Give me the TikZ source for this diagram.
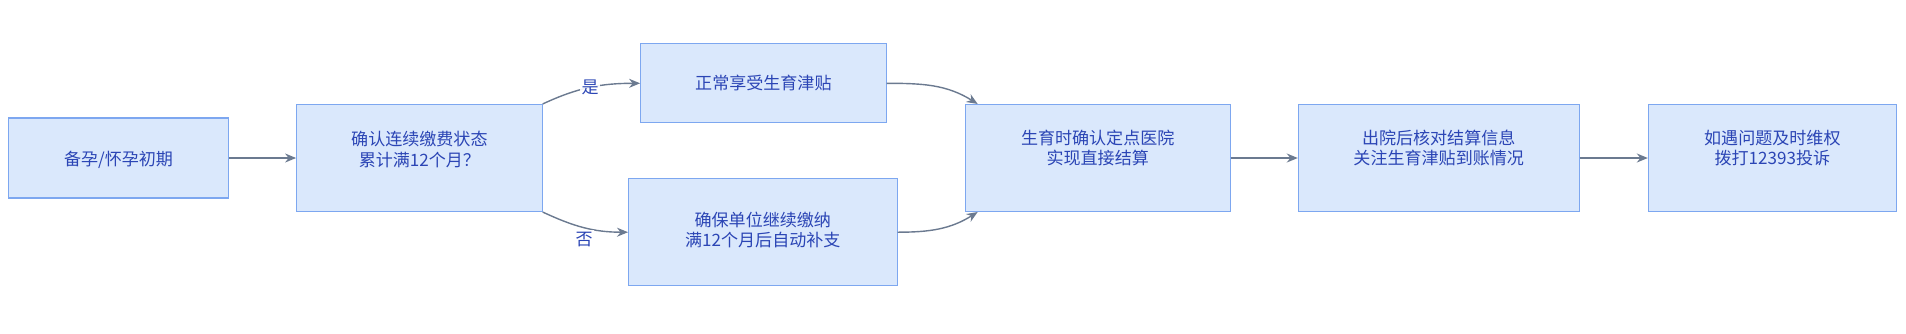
\documentclass[tikz,border=0pt]{standalone}
\usepackage{fontspec}
\setmainfont{Noto Sans CJK SC}
\usetikzlibrary{arrows.meta, positioning, calc}
\usepackage{xcolor}
\definecolor{BoxFill}{HTML}{DAE8FC}
\definecolor{BoxLine}{HTML}{7DA7F0}
\definecolor{BoxText}{HTML}{2B45B5}
\definecolor{Flow}{HTML}{6B7A90}

\begin{document}
\begin{tikzpicture}[
            stepbox/.style={rectangle, draw=BoxLine, line width=0.6pt, fill=BoxFill, minimum height=2.14cm, align=center, text=BoxText, font=\fontsize{9.7}{11.5}\selectfont, inner sep=2pt},
            arrow/.style={-{Stealth[length=0.22cm, width=0.18cm]}, line width=0.8pt, color=Flow},
            lbl/.style={font=\fontsize{9.7}{11.5}\selectfont, text=BoxText, fill=white, fill opacity=0.9, text opacity=1, inner sep=1pt}
        ]
            \useasboundingbox (0,0) rectangle (38.12,-6.66);

            % Start and check
            \node[stepbox, minimum width=4.4cm, minimum height=1.6cm, text depth=-2pt] (start) at (2.37,-3.16) {备孕/怀孕初期};
            \node[stepbox, minimum width=4.91cm] (check) at (8.388,-3.16) {确认连续缴费状态\\累计满12个月？\\[-1pt]};

            % Two branches
            \node[stepbox, minimum width=4.91cm, minimum height=1.58cm] (normal) at (15.268,-1.666) {正常享受生育津贴};
            \node[stepbox, minimum width=5.37cm] (keep) at (15.256,-4.644) {确保单位继续缴纳\\满12个月后自动补支\\[-8pt]};

            % Following steps
            \node[stepbox, minimum width=5.30cm] (birth) at (21.954,-3.16) {生育时确认定点医院\\实现直接结算\\[1pt]};
            \node[stepbox, minimum width=5.616cm] (leave) at (28.774,-3.16) {出院后核对结算信息\\关注生育津贴到账情况\\[1pt]};
            \node[stepbox, minimum width=4.96cm] (help) at (35.447,-3.16) {如遇问题及时维权\\拨打12393投诉\\[1pt]};

            % Connections
            \draw[arrow] (start) -- (check);
            \draw[arrow] (check.north east) to[out=25, in=180] node[lbl, pos=0.5]{是} (normal.west);
            \draw[arrow] (check.south east) to[out=-25, in=180] node[lbl, pos=0.5, below=1pt]{否} (keep.west);
            \draw[arrow] (normal.east) to[out=0, in=148] ([xshift=0.26cm]birth.north west);
            \draw[arrow] (keep.east) to[out=0, in=-148] ([xshift=0.26cm]birth.south west);
            \draw[arrow] (birth) -- (leave);
            \draw[arrow] (leave) -- (help);
        \end{tikzpicture}
\end{document}
